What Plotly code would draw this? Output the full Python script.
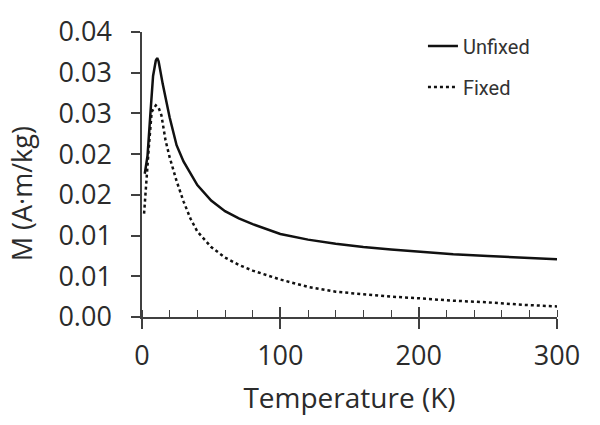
import plotly.graph_objects as go

# Data
temp_unfixed = [2, 4, 6, 8, 10, 11, 12, 15, 20, 25, 30, 35, 40, 50, 60, 70, 80,
                100, 120, 140, 160, 180, 200, 225, 250, 275, 300]
m_unfixed = [0.0176, 0.0198, 0.0248, 0.0296, 0.0315, 0.0318, 0.0314, 0.0286, 0.0245,
             0.0211, 0.0191, 0.0176, 0.0162, 0.0143, 0.0130, 0.0121, 0.0114,
             0.0102, 0.0095, 0.0090, 0.0086, 0.0083, 0.0080, 0.0077, 0.0075, 0.0073, 0.0071]

temp_fixed = [1.5, 3, 5, 7, 10, 12, 14, 17, 20, 25, 30, 35, 40, 50, 60, 70, 80,
              100, 120, 140, 160, 180, 200, 225, 250, 275, 300]
m_fixed = [0.0127, 0.0165, 0.0210, 0.0252, 0.0260, 0.0257, 0.0248, 0.0217, 0.0196,
           0.0167, 0.0142, 0.0121, 0.0105, 0.0086, 0.0073, 0.0064, 0.0057,
           0.0046, 0.0037, 0.0031, 0.0028, 0.0025, 0.0023, 0.0020, 0.0018, 0.0015, 0.0013]

y_tickvals = [0, 0.005, 0.01, 0.015, 0.02, 0.025, 0.03, 0.035]
y_ticktext = ["0.00", "0.01", "0.01", "0.02", "0.02", "0.03", "0.03", "0.04"]
x_tickvals = [0, 100, 200, 300]
x_ticktext = ["0", "100", "200", "300"]
x_title = "Temperature (K)"
y_title = "M (A·m/kg)"

AX = "#404040"
TXT = "#2b2b2b"
FONT = "Open Sans"

fig = go.Figure()
fig.add_trace(go.Scatter(x=temp_unfixed, y=m_unfixed, mode="lines", name="Unfixed",
                         legendgroup="a",
                         line=dict(color="#111111", width=2.5)))
fig.add_trace(go.Scatter(x=temp_fixed, y=m_fixed, mode="lines", name="Fixed",
                         legendgroup="b",
                         line=dict(color="#111111", width=2.5, dash="3px,3px")))
# empty helper trace for the overlay axis (upper half of crossing major ticks)
fig.add_trace(go.Scatter(x=[], y=[], xaxis="x2", showlegend=False, hoverinfo="skip"))

fig.update_layout(
    width=600, height=425,
    margin=dict(l=142, r=43, t=29, b=108),
    paper_bgcolor="white", plot_bgcolor="white",
    font=dict(family=FONT, color=TXT),
    showlegend=True,
    legend=dict(x=0.677, y=1.019, xanchor="left", yanchor="top",
                font=dict(family="Roboto", size=20, color="#333333"),
                tracegroupgap=12, bgcolor="rgba(0,0,0,0)"),
    xaxis=dict(range=[0, 300], tickvals=x_tickvals, ticktext=x_ticktext,
               showgrid=False, zeroline=False, showline=True, linecolor=AX, linewidth=1.5,
               ticks="outside", ticklen=10, tickwidth=1.5, tickcolor=AX,
               ticklabelstandoff=4,
               tickfont=dict(family=FONT, size=27, color=TXT),
               minor=dict(dtick=20, ticks="inside", ticklen=7, tickwidth=1.2, tickcolor=AX,
                          showgrid=False),
               title=dict(text=x_title, font=dict(family=FONT, size=28, color=TXT),
                          standoff=16)),
    xaxis2=dict(range=[0, 300], overlaying="x", anchor="y", side="bottom",
                tickvals=x_tickvals, ticks="inside", ticklen=10, tickwidth=1.5, tickcolor=AX,
                showticklabels=False, showgrid=False, zeroline=False, showline=False),
    yaxis=dict(range=[0, 0.035], tickvals=y_tickvals, ticktext=y_ticktext,
               showgrid=False, zeroline=False, showline=True, linecolor=AX, linewidth=1.5,
               ticks="outside", ticklen=9, tickwidth=1.5, tickcolor=AX,
               ticklabelstandoff=14,
               tickfont=dict(family=FONT, size=27, color=TXT)),
    annotations=[dict(text=y_title, textangle=-90, xref="paper", yref="paper",
                      x=(21 - 142) / 415, y=(317 - 193) / 288,
                      xanchor="center", yanchor="middle", borderpad=0,
                      showarrow=False, font=dict(family=FONT, size=27, color=TXT))],
)

fig.write_html("out.html", config={"displayModeBar": False},
               post_script="document.body.style.margin='0';document.body.style.overflow='hidden';")
